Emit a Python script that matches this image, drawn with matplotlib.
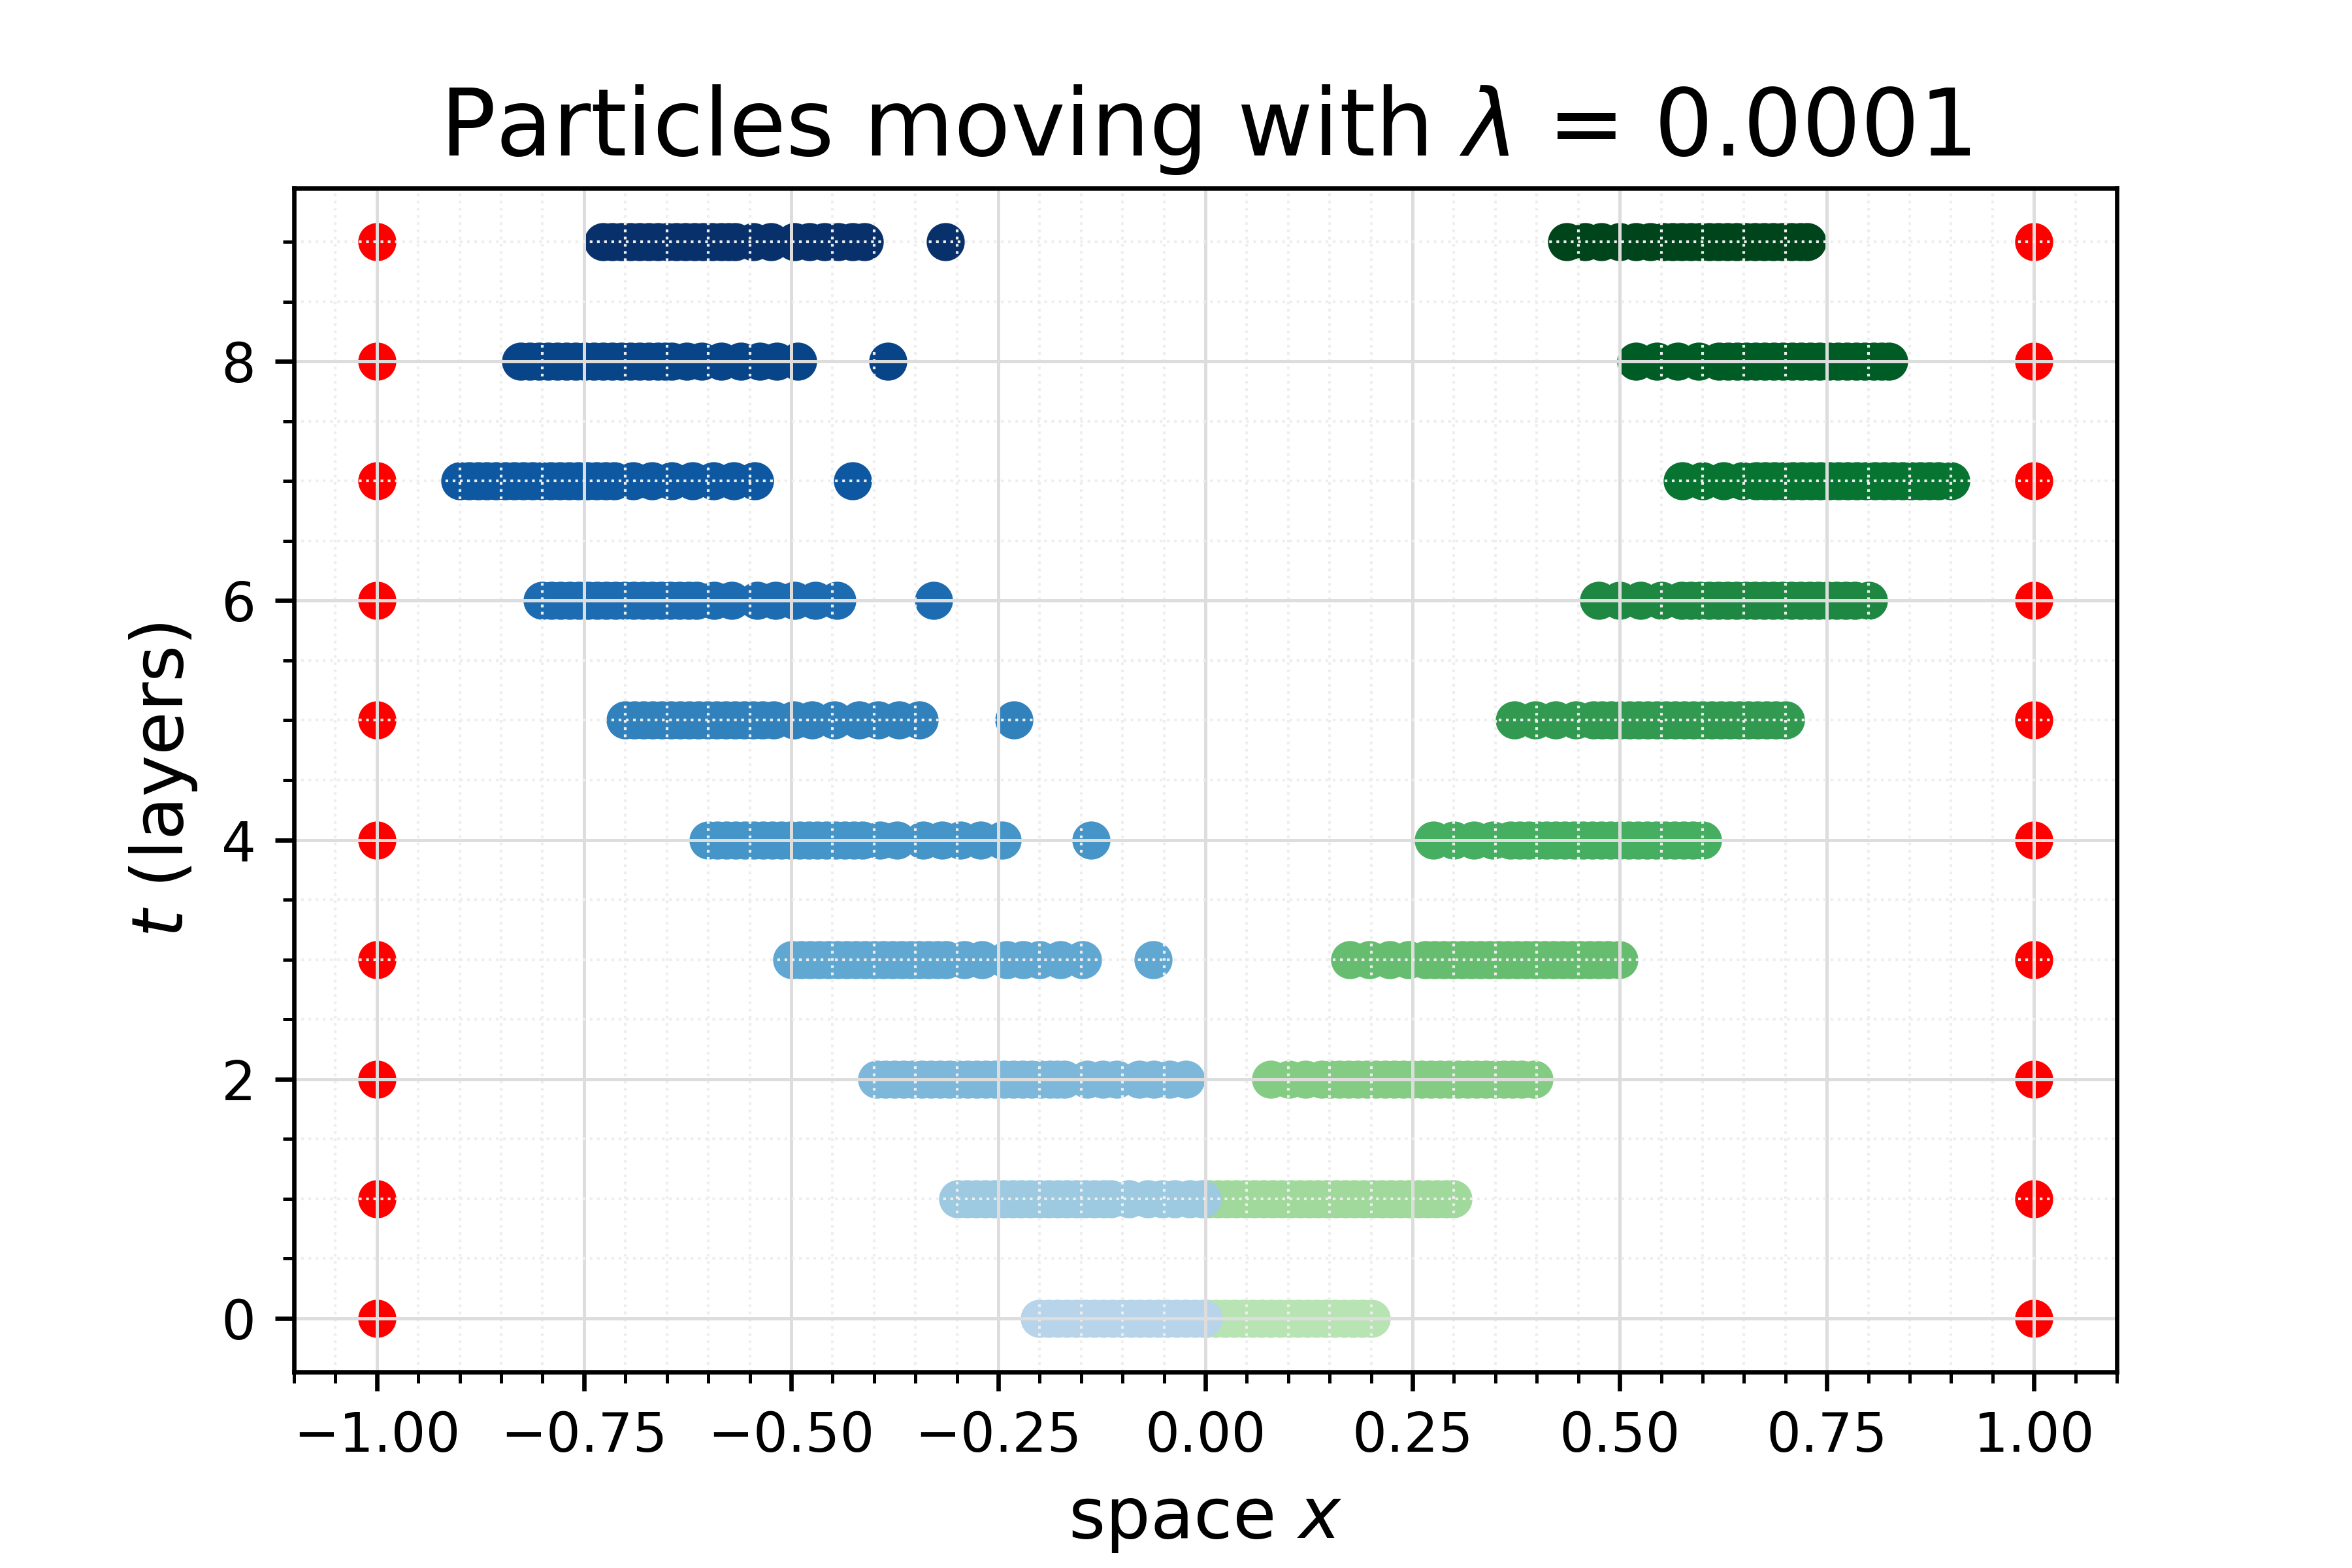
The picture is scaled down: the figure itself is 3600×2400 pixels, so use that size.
import matplotlib
matplotlib.use("Agg")
import matplotlib.pyplot as plt
import numpy as np
from matplotlib.ticker import MultipleLocator

# layer index t
layers = list(range(10))

# positions of the left-moving particles, one list per layer
left_x = [
    [-0.200, -0.189, -0.178, -0.167, -0.156, -0.145, -0.134, -0.123, -0.112, -0.101,
     -0.090, -0.079, -0.068, -0.057, -0.046, -0.035, -0.024, -0.013, -0.002],
    [-0.299, -0.288, -0.277, -0.266, -0.255, -0.244, -0.233, -0.222, -0.211, -0.200,
     -0.189, -0.178, -0.167, -0.156, -0.145, -0.134, -0.123, -0.114,
     -0.092, -0.069, -0.052, -0.037, -0.019, -0.004],
    [-0.397, -0.386, -0.375, -0.364, -0.353, -0.342, -0.331, -0.320, -0.309, -0.298,
     -0.287, -0.276, -0.265, -0.254, -0.243, -0.232, -0.221, -0.210, -0.199, -0.188,
     -0.179, -0.170, -0.143, -0.124, -0.107, -0.080, -0.062, -0.043, -0.024],
    [-0.499, -0.488, -0.477, -0.466, -0.455, -0.444, -0.433, -0.422, -0.411, -0.400,
     -0.389, -0.378, -0.367, -0.356, -0.345, -0.334, -0.323, -0.313,
     -0.291, -0.270, -0.240, -0.220, -0.200, -0.175, -0.148, -0.063],
    [-0.600, -0.589, -0.578, -0.567, -0.556, -0.545, -0.534, -0.523, -0.512, -0.501,
     -0.490, -0.479, -0.468, -0.457, -0.446, -0.435, -0.424, -0.414,
     -0.393, -0.372, -0.341, -0.318, -0.296, -0.271, -0.245, -0.138],
    [-0.700, -0.689, -0.678, -0.667, -0.656, -0.645, -0.634, -0.623, -0.612, -0.601,
     -0.590, -0.579, -0.568, -0.557, -0.546, -0.535, -0.521,
     -0.497, -0.475, -0.448, -0.418, -0.395, -0.370, -0.345, -0.231],
    [-0.800, -0.789, -0.778, -0.767, -0.756, -0.745, -0.734, -0.723, -0.712, -0.701,
     -0.690, -0.679, -0.668, -0.657, -0.646, -0.635, -0.624, -0.614,
     -0.593, -0.572, -0.541, -0.519, -0.496, -0.471, -0.445, -0.328],
    [-0.900, -0.889, -0.878, -0.867, -0.856, -0.845, -0.834, -0.823, -0.812, -0.801,
     -0.790, -0.779, -0.768, -0.757, -0.746, -0.735, -0.724, -0.714,
     -0.691, -0.668, -0.644, -0.619, -0.594, -0.569, -0.544, -0.426],
    [-0.826, -0.815, -0.804, -0.793, -0.782, -0.771, -0.760, -0.749, -0.738, -0.727,
     -0.716, -0.705, -0.694, -0.683, -0.672, -0.661, -0.652, -0.644,
     -0.626, -0.608, -0.584, -0.561, -0.538, -0.517, -0.492, -0.383],
    [-0.727, -0.716, -0.705, -0.694, -0.683, -0.672, -0.661, -0.650, -0.639, -0.628,
     -0.617, -0.606, -0.595, -0.584, -0.576, -0.568,
     -0.546, -0.524, -0.496, -0.478, -0.460, -0.443, -0.426, -0.412, -0.314],
]

# positions of the right-moving particles, one list per layer
right_x = [
    [0.002, 0.013, 0.024, 0.035, 0.046, 0.057, 0.068, 0.079, 0.090, 0.101,
     0.112, 0.123, 0.134, 0.145, 0.156, 0.167, 0.178, 0.189, 0.200],
    [0.004, 0.015, 0.026, 0.037, 0.048, 0.059, 0.070, 0.081, 0.092, 0.103,
     0.114, 0.125, 0.136, 0.147, 0.158, 0.169, 0.180, 0.191, 0.202, 0.213,
     0.224, 0.235, 0.246, 0.257, 0.268, 0.279, 0.290, 0.299],
    [0.079, 0.101, 0.121, 0.140, 0.151, 0.162, 0.173, 0.184, 0.195, 0.206,
     0.217, 0.228, 0.239, 0.250, 0.261, 0.272, 0.283, 0.294, 0.305, 0.316,
     0.327, 0.338, 0.349, 0.360, 0.371, 0.382, 0.397],
    [0.174, 0.198, 0.222, 0.245, 0.266, 0.277, 0.288, 0.299, 0.310, 0.321,
     0.332, 0.343, 0.354, 0.365, 0.376, 0.387, 0.398, 0.409, 0.420, 0.431,
     0.442, 0.453, 0.464, 0.475, 0.486, 0.499],
    [0.275, 0.300, 0.324, 0.347, 0.368, 0.379, 0.390, 0.401, 0.412, 0.423,
     0.434, 0.445, 0.456, 0.467, 0.478, 0.489, 0.500, 0.511, 0.522, 0.533,
     0.544, 0.555, 0.566, 0.577, 0.588, 0.600],
    [0.373, 0.398, 0.423, 0.447, 0.468, 0.479, 0.490, 0.501, 0.512, 0.523,
     0.534, 0.545, 0.556, 0.567, 0.578, 0.589, 0.600, 0.611, 0.622, 0.633,
     0.644, 0.655, 0.666, 0.677, 0.688, 0.700],
    [0.475, 0.500, 0.525, 0.550, 0.575, 0.586, 0.597, 0.608, 0.619, 0.630,
     0.641, 0.652, 0.663, 0.674, 0.685, 0.696, 0.707, 0.718, 0.729, 0.740,
     0.751, 0.762, 0.773, 0.784, 0.800],
    [0.576, 0.600, 0.625, 0.648, 0.665, 0.676, 0.687, 0.698, 0.709, 0.720,
     0.731, 0.742, 0.753, 0.764, 0.775, 0.786, 0.797, 0.808, 0.819, 0.830,
     0.841, 0.852, 0.863, 0.874, 0.885, 0.900],
    [0.520, 0.545, 0.570, 0.595, 0.620, 0.631, 0.642, 0.653, 0.664, 0.675,
     0.686, 0.697, 0.708, 0.719, 0.730, 0.741, 0.752, 0.763, 0.774, 0.785,
     0.796, 0.807, 0.816, 0.825],
    [0.436, 0.458, 0.478, 0.500, 0.520, 0.537, 0.553, 0.564, 0.575, 0.586,
     0.597, 0.608, 0.619, 0.630, 0.641, 0.652, 0.663, 0.674, 0.685, 0.696,
     0.707, 0.718, 0.726],
]

# walls at both ends
walls = [-1.0, 1.0]

blues = plt.cm.Blues(np.linspace(0.3, 1.0, len(layers)))
greens = plt.cm.Greens(np.linspace(0.3, 1.0, len(layers)))

fig, ax = plt.subplots(figsize=(6, 4))
fig.subplots_adjust(left=0.125, right=0.9, bottom=0.125, top=0.88)

for t in layers:
    ax.scatter(right_x[t], [t] * len(right_x[t]), color=greens[t])
    ax.scatter(left_x[t], [t] * len(left_x[t]), color=blues[t])
    ax.scatter(walls, [t] * len(walls), color='red')

ax.xaxis.set_minor_locator(MultipleLocator(0.05))
ax.yaxis.set_minor_locator(MultipleLocator(0.5))
ax.grid(which='major', color='#DDDDDD', linewidth=0.6)
ax.grid(which='minor', color='#EEEEEE', linestyle=':', linewidth=0.5)

ax.set_title(r'Particles moving with $\lambda$ = 0.0001', fontsize=17)
ax.set_xlabel(r'space $x$', fontsize=13)
ax.set_ylabel(r'$t$ (layers)', fontsize=13)

fig.savefig('out.png', dpi=600)
